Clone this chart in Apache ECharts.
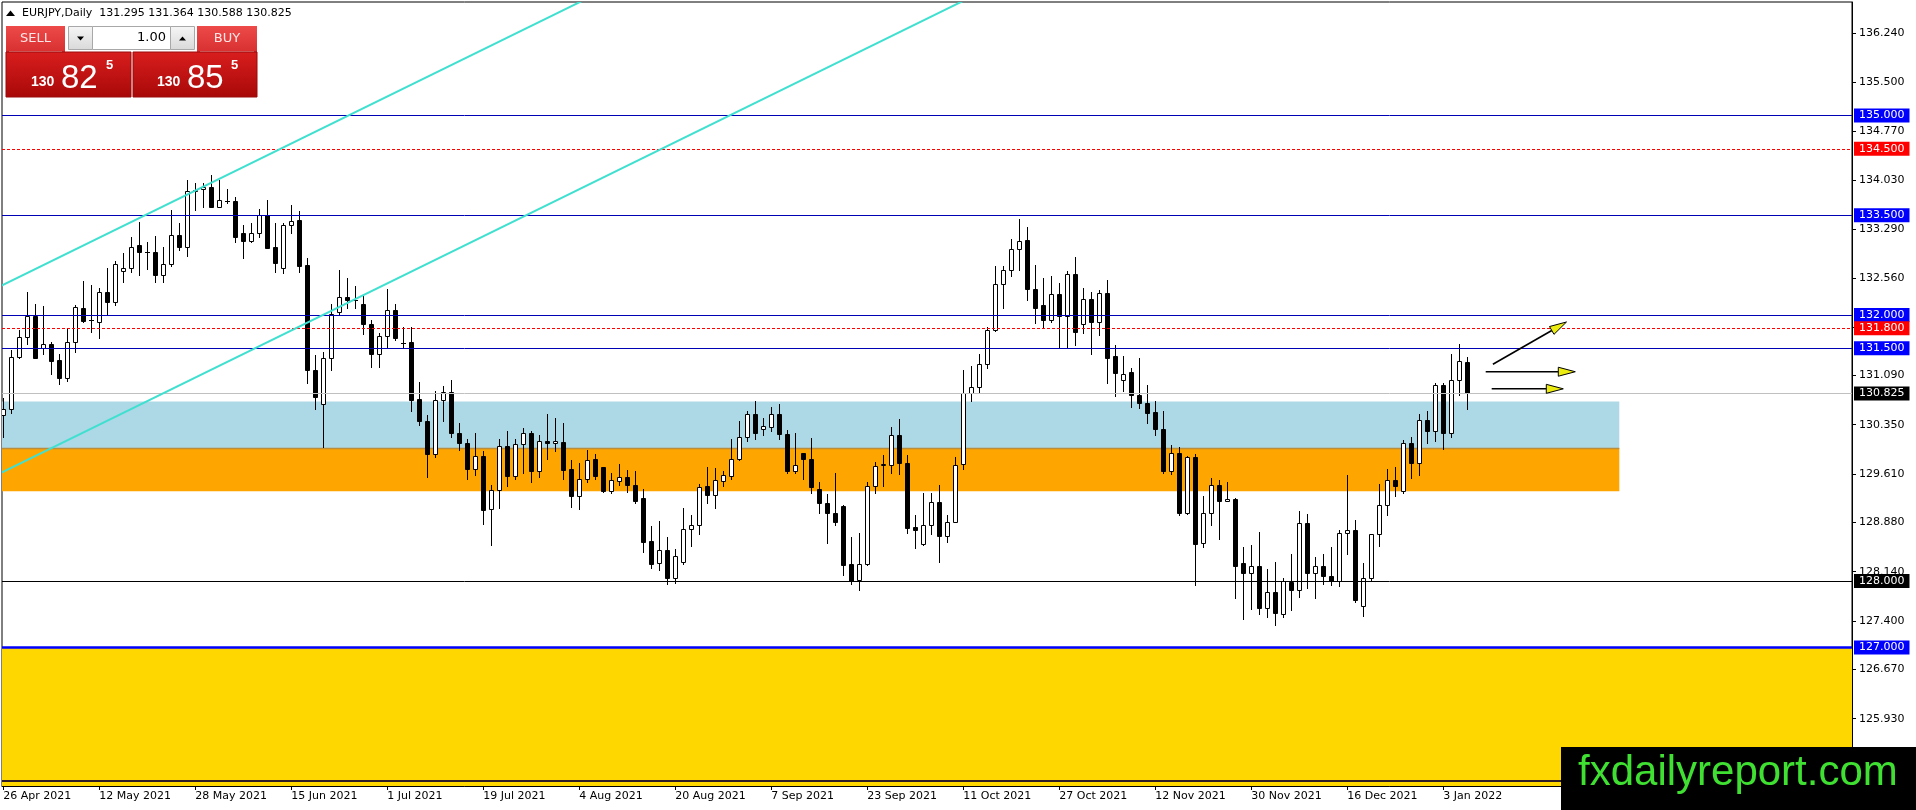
<!DOCTYPE html>
<html><head><meta charset="utf-8">
<script src="https://cdn.jsdelivr.net/npm/echarts@6/dist/echarts.min.js"></script>
<style>html,body{margin:0;padding:0;background:#fff;overflow:hidden}#c{width:1916px;height:810px}</style>
</head><body><div id="c"></div>
<script>
// ---- data (daily EURJPY bars, first bar = 26 Apr 2021) ----
const openP=[
130.49,130.58,131.37,131.67,131.98,131.51,131.56,131.33,131.06,131.59,
132.10,131.93,131.90,132.35,132.20,132.66,132.70,133.05,132.94,132.94,
132.60,132.76,133.21,133.03,133.87,133.90,133.92,133.63,133.72,133.71,
133.24,133.12,133.24,133.50,133.02,132.70,133.36,133.43,132.75,131.17,
130.66,131.35,132.05,132.27,132.22,132.17,131.86,131.42,131.68,132.08,
131.58,131.59,130.73,130.41,129.91,130.72,130.84,130.22,130.08,129.68,
129.88,129.08,129.37,130.03,129.58,130.06,130.23,129.66,130.11,130.07,
130.09,129.68,129.28,129.53,129.83,129.71,129.36,129.51,129.56,129.44,
129.25,128.60,128.27,128.47,128.04,128.28,128.78,128.84,129.43,129.30,
129.51,129.58,129.84,130.17,130.51,130.29,130.32,130.51,130.21,129.66,
129.92,129.84,129.39,129.17,129.03,129.13,128.25,128.01,128.25,129.43,
129.75,129.75,130.20,129.78,128.81,128.55,128.84,129.19,128.68,128.88,
129.76,130.82,130.91,131.26,131.77,132.46,132.68,132.99,133.13,132.39,
132.15,131.93,132.31,131.99,132.62,131.87,132.24,131.89,132.33,131.38,
131.02,131.14,130.79,130.67,130.54,130.28,129.66,129.92,129.03,129.86,
128.57,129.02,129.44,129.21,129.24,128.27,128.12,128.23,127.59,127.83,
127.50,127.99,127.87,128.87,128.12,128.22,128.08,128.00,128.72,128.76,
127.62,128.05,128.70,129.15,129.52,129.36,130.07,129.77,130.42,130.25,
130.95,130.22,131.02,131.295];
const highP=[
130.75,131.47,131.77,132.34,132.16,132.14,131.60,131.42,131.81,132.15,
132.51,132.45,132.41,132.70,132.81,132.93,133.17,133.40,133.10,133.19,
133.02,133.58,133.38,134.03,133.98,133.99,134.10,134.03,133.89,133.78,
133.35,133.39,133.60,133.73,133.39,133.39,133.65,133.56,132.85,131.40,
131.45,132.16,132.68,132.55,132.43,132.30,131.92,131.73,132.39,132.17,
131.82,131.82,130.99,130.49,130.85,130.93,131.03,130.37,130.14,130.23,
129.96,129.44,130.13,130.26,130.13,130.30,130.25,130.20,130.51,130.45,
130.37,129.82,129.77,129.97,129.91,129.72,129.63,129.76,129.67,129.66,
129.39,128.83,128.90,128.66,128.48,129.10,128.99,129.46,129.72,129.70,
129.66,130.14,130.41,130.56,130.70,130.45,130.61,130.66,130.27,130.22,
129.93,130.15,129.49,129.31,129.62,129.14,128.66,128.72,129.49,129.79,
129.89,130.31,130.44,129.89,128.99,129.33,129.33,129.45,128.99,129.86,
131.18,131.23,131.41,131.82,132.74,132.74,133.14,133.44,133.32,132.75,
132.55,132.59,132.48,132.66,132.87,132.40,132.34,132.37,132.53,131.55,
131.38,131.21,131.36,130.95,130.71,130.56,130.05,130.02,129.88,129.91,
129.28,129.55,129.52,129.49,129.25,128.51,128.54,128.73,128.18,128.28,
128.05,128.41,129.05,129.01,128.36,128.40,128.51,128.76,129.59,128.91,
128.27,128.71,129.46,129.69,129.72,130.12,130.16,130.51,130.55,130.98,
130.97,131.42,131.56,131.364];
const lowP=[
130.17,130.53,131.35,131.57,131.35,131.41,131.11,130.96,131.01,131.45,
131.90,131.75,131.65,132.01,132.15,132.49,132.64,132.60,132.69,132.50,
132.49,132.74,132.97,132.89,133.58,133.63,133.63,133.62,133.69,133.10,
132.85,133.10,133.18,133.01,132.64,132.63,133.24,132.65,130.98,130.58,
130.01,131.18,132.02,132.10,132.10,131.72,131.22,131.22,131.50,131.62,
131.50,130.56,130.34,129.57,129.86,130.40,130.17,129.97,129.54,129.59,
128.85,128.54,129.10,129.43,129.53,129.63,129.49,129.57,129.84,129.96,
129.54,129.12,129.09,129.49,129.53,129.34,129.32,129.44,129.34,129.18,
128.44,128.19,128.17,127.96,127.97,128.26,128.53,128.71,129.18,129.10,
129.43,129.54,129.82,130.11,130.14,130.20,130.25,130.13,129.62,129.63,
129.54,129.32,129.02,128.57,128.84,128.09,127.95,127.87,128.24,129.33,
129.43,129.62,129.61,128.72,128.49,128.54,128.70,128.28,128.58,128.88,
129.69,130.70,130.83,131.20,131.76,132.10,132.58,132.68,132.23,131.88,
131.80,131.90,131.52,131.50,131.55,131.73,131.41,131.70,130.97,130.78,
130.85,130.62,130.60,130.38,130.19,129.63,129.61,128.99,129.01,127.94,
128.51,128.84,128.63,129.20,127.75,127.43,127.58,127.51,127.46,127.34,
127.46,127.56,127.76,127.89,127.75,127.96,127.94,127.93,128.40,127.69,
127.47,128.00,128.52,129.00,129.28,129.33,129.55,129.60,130.08,130.11,
129.98,130.17,130.79,130.588];
const closeP=[
130.58,131.37,131.67,131.98,131.36,131.56,131.31,131.06,131.59,132.12,
131.91,131.92,132.35,132.20,132.76,132.70,133.03,132.94,132.95,132.60,
132.76,133.21,133.03,133.87,133.88,133.92,133.63,133.73,133.72,133.18,
133.12,133.24,133.50,133.01,132.78,133.36,133.42,132.73,131.18,130.76,
131.36,132.01,132.27,132.23,132.22,131.86,131.42,131.68,132.08,131.65,
131.58,130.72,130.40,129.91,130.72,130.84,130.22,130.08,129.68,129.88,
129.07,129.37,130.03,129.58,130.06,130.22,129.66,130.10,130.07,130.11,
129.67,129.28,129.53,129.82,129.58,129.36,129.52,129.56,129.45,129.21,
128.59,128.25,128.46,128.04,128.38,128.78,128.84,129.42,129.30,129.52,
129.59,129.84,130.17,130.51,130.23,130.33,130.51,130.21,129.66,129.74,
129.84,129.41,129.17,129.03,128.88,128.24,128.00,128.25,129.43,129.73,
129.76,130.20,129.78,128.80,128.76,128.84,129.19,128.68,128.89,129.75,
130.82,130.91,131.26,131.77,132.46,132.68,132.99,133.12,132.39,132.10,
131.93,132.31,131.99,132.62,131.75,132.24,131.90,132.33,131.36,131.13,
131.12,130.79,130.67,130.53,130.28,129.66,129.92,129.03,129.86,128.56,
129.02,129.44,129.21,129.24,128.23,128.12,128.23,127.59,127.83,127.52,
128.00,127.87,128.87,128.12,128.23,128.08,128.00,128.72,128.76,127.72,
128.05,128.70,129.15,129.52,129.43,130.07,129.77,130.42,130.25,130.95,
130.23,131.02,131.31,130.825];

const dateTickIdx=[0,12,24,36,48,60,72,84,96,108,120,132,144,156,168,180];
const dateTickLabels=['26 Apr 2021','12 May 2021','28 May 2021','15 Jun 2021','1 Jul 2021','19 Jul 2021','4 Aug 2021','20 Aug 2021','7 Sep 2021','23 Sep 2021','11 Oct 2021','27 Oct 2021','12 Nov 2021','30 Nov 2021','16 Dec 2021','3 Jan 2022'];
const priceTicks=[136.24,135.5,134.77,134.03,133.29,132.56,131.82,131.09,130.35,129.61,128.88,128.14,127.4,126.67,125.93];

const blueLevels=[135.0,133.5,132.0,131.5];
const redLevels=[134.5,131.8];
const blackLevel=128.0;
const supportLevel=127.0;
const bottomLevel=125.0;
const bidPrice=130.825;

// zones: [low, high, fromBar, toBar]
const zoneLow=[130.0,129.35,120.0];
const zoneHigh=[130.7,130.0,127.0];
const zoneFrom=[-5,-5,-5];
const zoneTo=[202,202,260];
// channel lines: [bar1, price1, bar2, price2]
const trendLines=[[-5,132.159,100,138.354],[-5,129.349,140,137.904]];
// drawn arrows: [bar1, price1, bar2, price2]
const arrowsData=[[186.2,131.26,195.4,131.895],[185.3,131.147,196.5,131.147],[186.05,130.89,195.0,130.89]];

const title='EURJPY,Daily  131.295 131.364 130.588 130.825';

// ---- chart ----
const FONT='"DejaVu Sans", Verdana, sans-serif';
const zoneColors=['#add8e6','#ffa500','#ffd700'];
const candleData=openP.map((o,i)=>[i,o,highP[i],lowP[i],closeP[i]]);
const zoneData=zoneLow.map((lo,i)=>[zoneFrom[i],lo,zoneTo[i],zoneHigh[i],i]);

function renderCandle(params, api){
  const i=api.value(0),o=api.value(1),h=api.value(2),l=api.value(3),c=api.value(4);
  const px=Math.round(api.coord([i,o])[0])+0.5;
  const py=v=>Math.round(api.coord([i,v])[1])+0.5;
  const yo=py(o),yc=py(c),yh=py(h),yl=py(l);
  const top=Math.min(yo,yc),bot=Math.max(yo,yc);
  const ch=[{type:'line',shape:{x1:px,y1:yh-0.5,x2:px,y2:yl+0.5},style:{stroke:'#000',lineWidth:1}}];
  if(bot-top<1){
    ch.push({type:'line',shape:{x1:px-2.5,y1:top,x2:px+2.5,y2:top},style:{stroke:'#000',lineWidth:1}});
  }else{
    ch.push({type:'rect',shape:{x:px-2,y:top,width:4,height:bot-top},style:{fill:c>=o?'#fff':'#000',stroke:'#000',lineWidth:1}});
  }
  return {type:'group',children:ch};
}
function renderZone(params, api){
  const p1=api.coord([api.value(0),api.value(3)]);
  const p2=api.coord([api.value(2),api.value(1)]);
  const idx=api.value(4);
  const ch=[{type:'rect',shape:{x:p1[0],y:p1[1],width:p2[0]-p1[0],height:p2[1]-p1[1]},style:{fill:zoneColors[idx]}}];
  if(idx===1){
    ch.push({type:'line',shape:{x1:p1[0],y1:Math.round(p1[1])+0.5,x2:p2[0],y2:Math.round(p1[1])+0.5},style:{stroke:'#b98d3c',lineWidth:1.5}});
  }
  return {type:'group',children:ch};
}
function renderTrend(params, api){
  const a=api.coord([api.value(0),api.value(1)]);
  const b=api.coord([api.value(2),api.value(3)]);
  return {type:'line',shape:{x1:a[0],y1:a[1],x2:b[0],y2:b[1]},style:{stroke:'#40e0d0',lineWidth:2}};
}
function renderArrow(params, api){
  const a=api.coord([api.value(0),api.value(1)]);
  const b=api.coord([api.value(2),api.value(3)]);
  const dx=b[0]-a[0],dy=b[1]-a[1],len=Math.hypot(dx,dy),ux=dx/len,uy=dy/len;
  const hl=17,hw=4.5,bx=b[0]-ux*hl,by=b[1]-uy*hl,nx=-uy,ny=ux;
  return {type:'group',children:[
    {type:'line',shape:{x1:a[0],y1:a[1],x2:bx,y2:by},style:{stroke:'#000',lineWidth:1.6}},
    {type:'polygon',shape:{points:[[b[0],b[1]],[bx+nx*hw,by+ny*hw],[bx-nx*hw,by-ny*hw]]},style:{fill:'#ecec10',stroke:'#000',lineWidth:1}}
  ]};
}
function lvl(v,lineColor,bg,type,width){
  return {yAxis:v,lineStyle:{color:lineColor,type:type||'solid',width:width||1},
    label:{show:true,position:'end',distance:2,formatter:v.toFixed(3),color:'#fff',backgroundColor:bg,
      padding:[1,5,1,5],lineHeight:12,fontFamily:FONT,fontSize:11}};
}
const markLevels=[]
  .concat(blueLevels.map(v=>lvl(v,'#0000b4','#0000ff')))
  .concat(redLevels.map(v=>lvl(v,'#ff0000','#ff0000',[3,2])))
  .concat([lvl(bidPrice,'#c0c0c0','#000000'),lvl(blackLevel,'#000000','#000000'),lvl(supportLevel,'#0000ff','#0000ff','solid',2.5),lvl(bottomLevel,'#2e1c26','#2e1c26','solid',2)]);

const grad=(a,b)=>({type:'linear',x:0,y:0,x2:0,y2:1,colorStops:[{offset:0,color:a},{offset:1,color:b}]});
const txt=(s,x,y,font,fill,align)=>({type:'text',z:100,style:{text:s,x:x,y:y,font:font,fill:fill,align:align||'left',verticalAlign:'middle'}});
const graphics=[
  {type:'polygon',z:100,shape:{points:[[6,16],[10.5,10.5],[15,16]]},style:{fill:'#000'}},
  txt(title,22,13.5,'11px '+FONT,'#000'),
  // SELL header
  {type:'rect',z:100,shape:{x:6,y:26,width:59,height:26},style:{fill:grad('#ee4a4a','#d83030')}},
  {type:'line',z:100,shape:{x1:9,y1:51.5,x2:62,y2:51.5},style:{stroke:'#f4a0a0',lineWidth:1}},
  txt('SELL',35.5,39,'13px '+FONT,'#fde6e6','center'),
  // lot selector
  {type:'rect',z:100,shape:{x:68.5,y:26.5,width:24,height:23},style:{fill:grad('#f6f6f6','#d9d9d9'),stroke:'#a8a8a8',lineWidth:1}},
  {type:'polygon',z:100,shape:{points:[[77,36.5],[84,36.5],[80.5,40.5]]},style:{fill:'#000'}},
  {type:'rect',z:100,shape:{x:92.5,y:26.5,width:78,height:23},style:{fill:'#fff',stroke:'#a8a8a8',lineWidth:1}},
  txt('1.00',166,38,'13px '+FONT,'#000','right'),
  {type:'rect',z:100,shape:{x:170.5,y:26.5,width:24,height:23},style:{fill:grad('#f6f6f6','#d9d9d9'),stroke:'#a8a8a8',lineWidth:1}},
  {type:'polygon',z:100,shape:{points:[[179,40.5],[186,40.5],[182.5,36.5]]},style:{fill:'#000'}},
  // BUY header
  {type:'rect',z:100,shape:{x:197,y:26,width:60,height:26},style:{fill:grad('#ee4a4a','#d83030')}},
  {type:'line',z:100,shape:{x1:200,y1:51.5,x2:254,y2:51.5},style:{stroke:'#f4a0a0',lineWidth:1}},
  txt('BUY',227,39,'13px '+FONT,'#fde6e6','center'),
  // price boxes
  {type:'rect',z:100,shape:{x:6,y:52,width:125,height:45},style:{fill:grad('#d91e1e','#a80808'),stroke:'#9a0a0a',lineWidth:1}},
  {type:'rect',z:100,shape:{x:133,y:52,width:124,height:45},style:{fill:grad('#d91e1e','#a80808'),stroke:'#9a0a0a',lineWidth:1}},
  txt('130',31,82,'bold 14px "Liberation Sans", Arial, sans-serif','#fff'),
  txt('82',61,78.5,'33px "Liberation Sans", Arial, sans-serif','#fff'),
  txt('5',106,65.5,'bold 13px "Liberation Sans", Arial, sans-serif','#fff'),
  txt('130',157,82,'bold 14px "Liberation Sans", Arial, sans-serif','#fff'),
  txt('85',187,78.5,'33px "Liberation Sans", Arial, sans-serif','#fff'),
  txt('5',231,65.5,'bold 13px "Liberation Sans", Arial, sans-serif','#fff'),
  // watermark
  {type:'rect',z:100,shape:{x:1561,y:747,width:355,height:63},style:{fill:'#000'}},
  txt('fxdailyreport.com',1578,773.5,'42px "Liberation Sans", Arial, sans-serif','#3fe032')
];

const chart=echarts.init(document.getElementById('c'),null,{renderer:'canvas'});
chart.setOption({
  animation:false,
  backgroundColor:'#fff',
  grid:{left:2,right:64,top:2,bottom:24,show:true,borderColor:'#000',borderWidth:1,backgroundColor:'#fff'},
  xAxis:{type:'value',min:-0.1625,max:231.0875,
    axisLine:{show:true,onZero:false,lineStyle:{color:'#000',width:1}},
    axisTick:{show:true,length:4,lineStyle:{color:'#000'},customValues:dateTickIdx},
    axisLabel:{show:true,customValues:dateTickIdx,align:'left',margin:5,color:'#000',fontFamily:FONT,fontSize:11,
      formatter:v=>{const k=dateTickIdx.indexOf(Math.round(v));return k>=0?dateTickLabels[k]:'';}},
    splitLine:{show:false}},
  yAxis:{type:'value',position:'right',min:124.9173,max:136.7068,
    axisLine:{show:true,onZero:false,lineStyle:{color:'#000',width:1}},
    axisTick:{show:true,length:4,lineStyle:{color:'#000'},customValues:priceTicks},
    axisLabel:{show:true,customValues:priceTicks,margin:7,color:'#000',fontFamily:FONT,fontSize:11,formatter:v=>v.toFixed(3)},
    splitLine:{show:false}},
  graphic:graphics,
  series:[
    {type:'custom',name:'zones',z:1,clip:true,renderItem:renderZone,data:zoneData,encode:{x:[0,2],y:[1,3]},silent:true},
    {type:'custom',name:'EURJPY',z:3,clip:true,renderItem:renderCandle,data:candleData,encode:{x:0,y:[1,2,3,4]},silent:true},
    {type:'line',name:'levels',z:4,data:[],clip:false,silent:true,
      markLine:{silent:true,symbol:['none','none'],animation:false,data:markLevels}},
    {type:'custom',name:'channel',z:5,clip:true,renderItem:renderTrend,data:trendLines,encode:{x:[0,2],y:[1,3]},silent:true},
    {type:'custom',name:'arrows',z:6,clip:true,renderItem:renderArrow,data:arrowsData,encode:{x:[0,2],y:[1,3]},silent:true}
  ]
});
</script>
</body></html>
